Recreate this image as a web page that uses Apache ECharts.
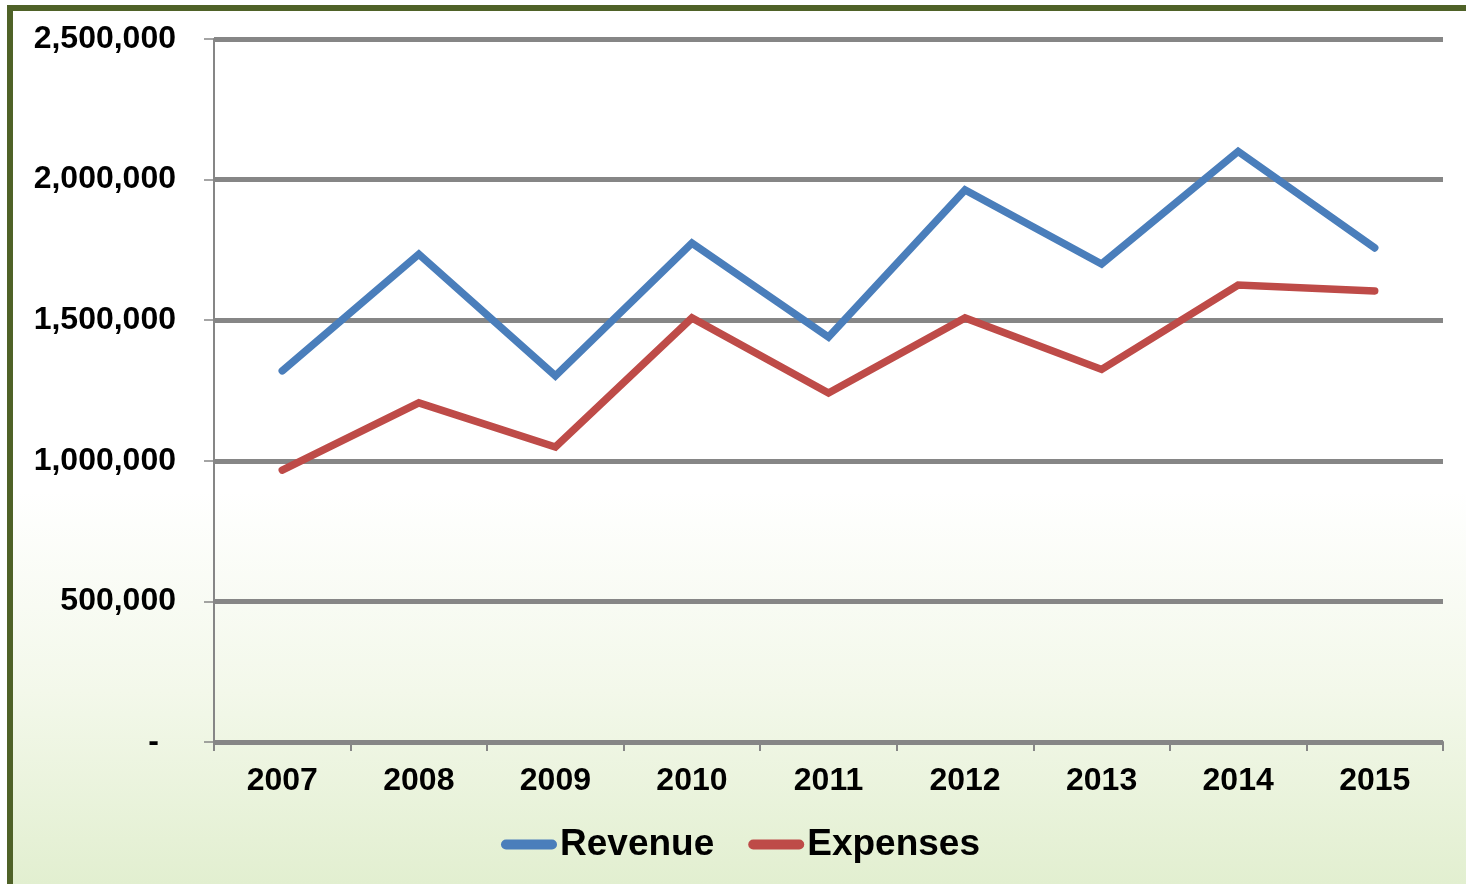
<!DOCTYPE html>
<html>
<head>
<meta charset="utf-8">
<script src="https://cdn.jsdelivr.net/npm/echarts@6/dist/echarts.min.js"></script>
<style>
html,body{margin:0;padding:0;background:#ffffff;}
#frame{position:absolute;left:7px;top:5px;width:1459px;height:879px;box-sizing:border-box;
  border-top:6px solid #4f6228;border-left:6px solid #4f6228;
  background:linear-gradient(to bottom,#ffffff 0%,#ffffff 55%,#f3f8ea 78%,#e2efd0 100%);}
#chart{position:absolute;left:0;top:0;width:1466px;height:884px;}
</style>
</head>
<body>
<div id="frame"></div>
<div id="chart"></div>
<script>
var categories = ['2007','2008','2009','2010','2011','2012','2013','2014','2015'];
var revenue = [1320000, 1735000, 1302000, 1774000, 1440000, 1963000, 1700000, 2100000, 1757000];
var expenses = [967000, 1206000, 1049000, 1508000, 1241000, 1508000, 1325000, 1625000, 1604000];
var seriesNames = ['Revenue', 'Expenses'];
var yTicks = { min: 0, max: 2500000, interval: 500000 };

var chart = echarts.init(document.getElementById('chart'), null, {renderer:'canvas'});
var FONT = "'Liberation Sans', Arial, sans-serif";
var CAPSULE = 'path://M5,0 H51 A5,5 0 0 1 51,10 H5 A5,5 0 0 1 5,0 Z';
chart.setOption({
  backgroundColor: 'transparent',
  animation: false,
  grid: { left: 214, right: 23, top: 39, bottom: 142, containLabel: false },
  legend: {
    data: seriesNames,
    bottom: 16,
    left: 496,
    itemWidth: 56,
    itemHeight: 10,
    itemGap: 34,
    icon: CAPSULE,
    lineStyle: { opacity: 0 },
    textStyle: { fontFamily: FONT, fontSize: 37, fontWeight: 'bold', color: '#000', padding: [0, 0, 0, -2] }
  },
  xAxis: {
    type: 'category',
    data: categories,
    boundaryGap: true,
    axisLine: { lineStyle: { color: '#868686', width: 2 } },
    axisTick: { show: true, length: 9, lineStyle: { color: '#868686', width: 2 } },
    axisLabel: { margin: 23, fontFamily: FONT, fontSize: 32, fontWeight: 'bold', color: '#000' },
    splitLine: { show: false }
  },
  yAxis: {
    type: 'value',
    min: yTicks.min, max: yTicks.max, interval: yTicks.interval,
    axisLine: { show: true, lineStyle: { color: '#868686', width: 2 } },
    axisTick: { show: true, length: 10, lineStyle: { color: '#868686', width: 1.5 } },
    axisLabel: {
      margin: 38, fontFamily: FONT, fontSize: 32, fontWeight: 'bold', color: '#000',
      formatter: function (v) {
        if (v === 0) return '{d|-}';
        return v.toLocaleString('en-US');
      },
      rich: { d: { fontFamily: FONT, fontSize: 32, fontWeight: 'bold', color: '#000', padding: [0, 17, 0, 0] } }
    },
    splitLine: { show: true, lineStyle: { color: '#868686', width: 5 } }
  },
  series: [
    { name: seriesNames[0], type: 'line', data: revenue, showSymbol: false, symbol: 'none',
      lineStyle: { color: '#4a7ebb', width: 7.5, cap: 'round', join: 'miter' }, itemStyle: { color: '#4a7ebb' } },
    { name: seriesNames[1], type: 'line', data: expenses, showSymbol: false, symbol: 'none',
      lineStyle: { color: '#be4b48', width: 7.5, cap: 'round', join: 'miter' }, itemStyle: { color: '#be4b48' } }
  ]
});
</script>
</body>
</html>
